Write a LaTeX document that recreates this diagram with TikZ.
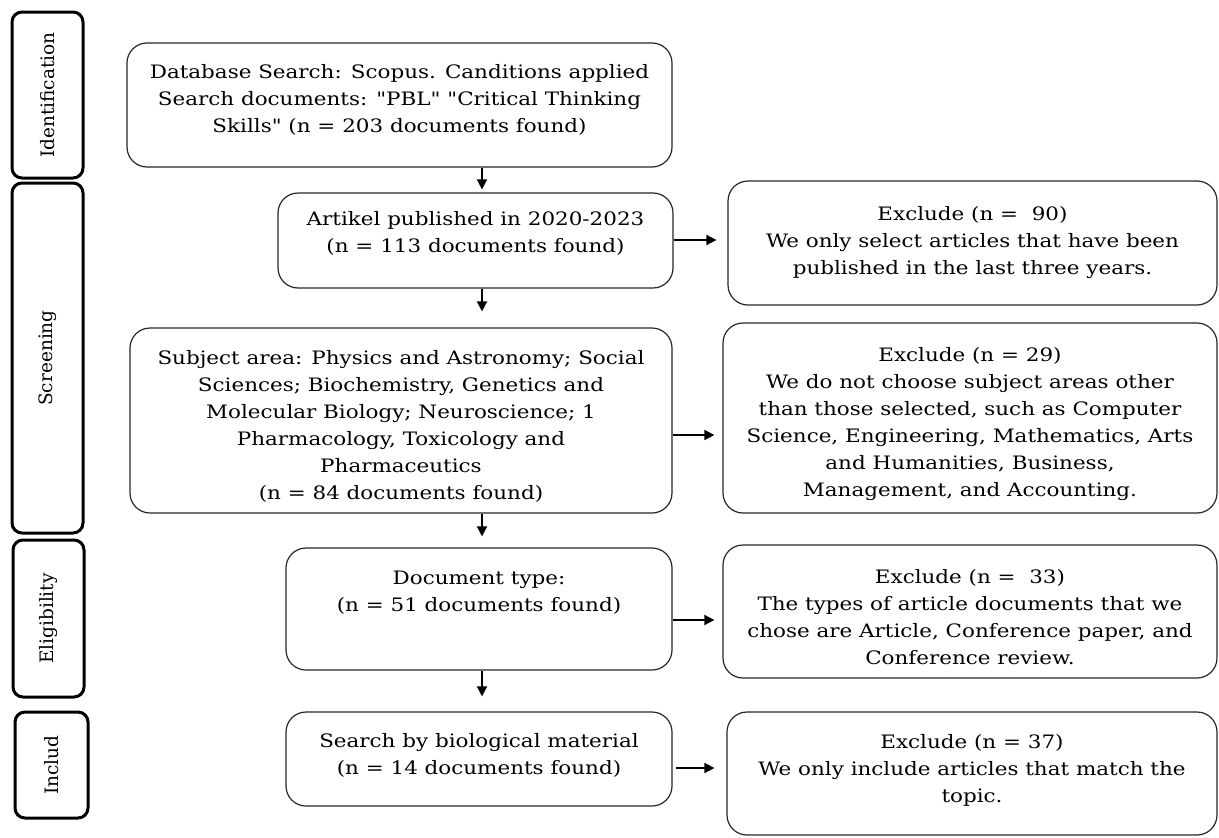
\documentclass[tikz,border=0pt]{standalone}
\usepackage{fontspec}
\newfontfamily\boxfont{DejaVu Serif}[FakeStretch=1.16]
\newfontfamily\stagefont{DejaVu Serif}
\usetikzlibrary{arrows.meta}
\begin{document}
\begin{tikzpicture}[x=1pt,y=-1pt,
  txt/.style={font=\boxfont\fontsize{18.5}{27}\selectfont, align=center, inner sep=0pt},
  box/.style={draw=black!85, line width=1.2pt, rounded corners=20pt, inner sep=0pt},
  stage/.style={draw=black, line width=3pt, rounded corners=10pt, inner sep=0pt, font=\stagefont\fontsize{18.5}{22}\selectfont},
  arr/.style={line width=1.6pt, -{Triangle[length=10pt,width=10pt]}},
]
\useasboundingbox (0,0) rectangle (1219,838);
% stage boxes
\node[stage, minimum width=71pt, minimum height=166pt] (s1) at (47.5,95) {\rotatebox{90}{Identification}};
\node[stage, minimum width=71pt, minimum height=350pt] (s2) at (47.5,358) {\rotatebox{90}{Screening}};
\node[stage, minimum width=71pt, minimum height=157pt] (s3) at (48.5,618.5) {\rotatebox{90}{Eligibility}};
\node[stage, minimum width=73pt, minimum height=106pt] (s4) at (51.5,765) {\rotatebox{90}{Includ}};
% main boxes
\node[box, minimum width=545pt, minimum height=124pt] (b1) at (399.5,105) {};
\node[box, minimum width=395pt, minimum height=95pt] (b2) at (475.5,240.5) {};
\node[box, minimum width=542pt, minimum height=185pt] (b3) at (401,420.5) {};
\node[box, minimum width=386pt, minimum height=122pt] (b4) at (479,609) {};
\node[box, minimum width=386pt, minimum height=94pt] (b5) at (479,759) {};
% exclusion boxes
\node[box, minimum width=489pt, minimum height=124pt] (r1) at (972.5,243) {};
\node[box, minimum width=494pt, minimum height=190pt] (r2) at (970,418) {};
\node[box, minimum width=494pt, minimum height=133pt] (r3) at (970,611.5) {};
\node[box, minimum width=490pt, minimum height=123pt] (r4) at (972,773.5) {};
% texts
\node[txt] (t1) at ([yshift=5pt]b1.center) {Database Search: Scopus. Canditions applied\\ Search documents: "PBL" "Critical Thinking\\ Skills" (n = 203 documents found)};
\node[txt] (t2) at ([yshift=7pt]b2.center) {Artikel published in 2020-2023\\ (n = 113 documents found)};
\node[txt] (t3) at ([yshift=-6pt]b3.center) {Subject area: Physics and Astronomy; Social\\ Sciences; Biochemistry, Genetics and\\ Molecular Biology; Neuroscience; 1\\ Pharmacology, Toxicology and\\ Pharmaceutics\\ (n = 84 documents found)};
\node[txt] (t4) at ([yshift=16pt]b4.center) {Document type:\\ (n = 51 documents found)};
\node[txt] (t5) at ([yshift=4pt]b5.center) {Search by biological material\\ (n = 14 documents found)};
\node[txt] (u1) at (r1.center) {Exclude (n = \ 90)\\ We only select articles that have been\\ published in the last three years.};
\node[txt] (u2) at ([yshift=-6pt]r2.center) {Exclude (n = 29)\\ We do not choose subject areas other\\ than those selected, such as Computer\\ Science, Engineering, Mathematics, Arts\\ and Humanities, Business,\\ Management, and Accounting.};
\node[txt] (u3) at ([yshift=-6pt]r3.center) {Exclude (n = \ 33)\\ The types of article documents that we\\ chose are Article, Conference paper, and\\ Conference review.};
\node[txt] (u4) at ([yshift=3pt]r4.center) {Exclude (n = 37)\\ We only include articles that match the\\ topic.};
% connectors
\coordinate (ax) at (482,0);
\coordinate (h1) at (0,240);
\coordinate (h2) at (0,435);
\coordinate (h3) at (0,620);
\coordinate (h4) at (0,768);
\draw[arr, shorten >=3pt] (b1.south -| ax) -- (b2.north -| ax);
\draw[arr, shorten >=16pt] (b2.south -| ax) -- (b3.north -| ax);
\draw[arr, shorten >=11pt] (b3.south -| ax) -- (b4.north -| ax);
\draw[arr, shorten >=15pt] (b4.south -| ax) -- (b5.north -| ax);
\draw[arr, shorten >=11pt] (b2.east |- h1) -- (r1.west |- h1);
\draw[arr, shorten >=8pt] (b3.east |- h2) -- (r2.west |- h2);
\draw[arr, shorten >=8pt] (b4.east |- h3) -- (r3.west |- h3);
\draw[arr, shorten <=3pt, shorten >=12pt] (b5.east |- h4) -- (r4.west |- h4);
\end{tikzpicture}
\end{document}
